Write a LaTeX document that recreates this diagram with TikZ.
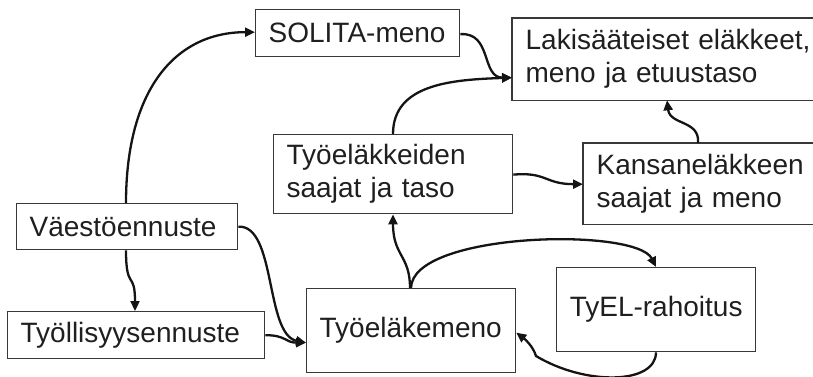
\documentclass[tikz,border=0pt]{standalone}
\usepackage{fontspec}
\setmainfont{Liberation Sans}
\usetikzlibrary{arrows.meta}
\begin{document}
\begin{tikzpicture}[x=1pt,y=-1pt,
  boxline/.style={draw=black!78,line width=1.3pt},
  box/.style={boxline,anchor=north west,inner xsep=13pt,inner ysep=0pt,
    align=left,font=\fontsize{28}{33}\selectfont,text=black!88},
  openbox/.style={box,draw=none},
  arr/.style={draw=black!92,line width=2.3pt,-{Triangle[length=10pt,width=9pt]}}]
\useasboundingbox (0,0) rectangle (813,377);
\clip (0,0) rectangle (813,377);
\node[box,text width=178pt,minimum height=47pt] (sol) at (255,9) {SOLITA-meno};
\node[openbox,text width=340pt,minimum height=81pt] (lak) at (512,18) {Lakisääteiset eläkkeet,\\meno ja etuustaso};
\draw[boxline] (lak.north east) -- (lak.north west) -- (lak.south west) -- (lak.south east);
\node[box,text width=213pt,minimum height=79pt] (tyk) at (273,134) {Työeläkkeiden\\saajat ja taso};
\node[openbox,text width=300pt,minimum height=80pt] (kan) at (583,143) {Kansaneläkkeen\\saajat ja meno};
\draw[boxline] (kan.north east) -- (kan.north west) -- (kan.south west) -- (kan.south east);
\node[box,text width=195pt,minimum height=46pt] (vae) at (16,203) {Väestöennuste};
\node[box,text width=231pt,minimum height=47pt] (tyl) at (7,311) {Työllisyysennuste};
\node[box,text width=183pt,minimum height=84pt] (tme) at (306,288) {Työeläkemeno};
\node[box,text width=173pt,minimum height=84pt,align=center] (tyel) at (556,267) {TyEL-rahoitus};
% connectors
\draw[arr] ([xshift=110pt]vae.north west) .. controls +(0,-113) and +(-80,0) .. ([yshift=1pt]sol.west);
\draw[arr] ([yshift=-1pt]sol.east) .. controls +(32,-2) and +(-31,0) .. ([yshift=-18.5pt]lak.west);
\draw[arr] ([xshift=120pt]tyk.north west) .. controls +(0,-50) and +(-60,2) .. ([yshift=-18.5pt]lak.west);
\draw[arr] ([yshift=-0.5pt]tyk.east) .. controls +(33,-3) and +(-38,0) .. ([yshift=-0.5pt]kan.west);
\draw[arr] ([xshift=115pt]kan.north west) .. controls +(2,-23) and +(3,25) .. ([xshift=155pt]lak.south west);
\draw[arr] (vae.south -| 126,0) .. controls +(0,41) and +(0,-41) .. (tyl.north -| 135,0);
\draw[arr] (vae.east) .. controls +(38,-2) and +(-41,-8) .. ([yshift=-12pt]tme.west);
\draw[arr] (tyl.east) .. controls +(21,0) and +(-21,0) .. ([yshift=-12pt]tme.west);
\draw[arr] ([xshift=104pt]tme.north west) .. controls +(0,-33) and +(0,42) .. ([xshift=120pt]tyk.south west);
\draw[arr] ([xshift=105pt]tme.north west) .. controls +(1,-56) and +(-20,-40) .. ([xshift=100pt]tyel.north west);
\coordinate (m) at (536,356);
\draw[arr] ([xshift=100pt]tyel.south west) .. controls +(0,32) and +(50,30) .. (m) .. controls +(-3,-10) and +(8,6) .. ([yshift=-2pt]tme.east);
\end{tikzpicture}
\end{document}
